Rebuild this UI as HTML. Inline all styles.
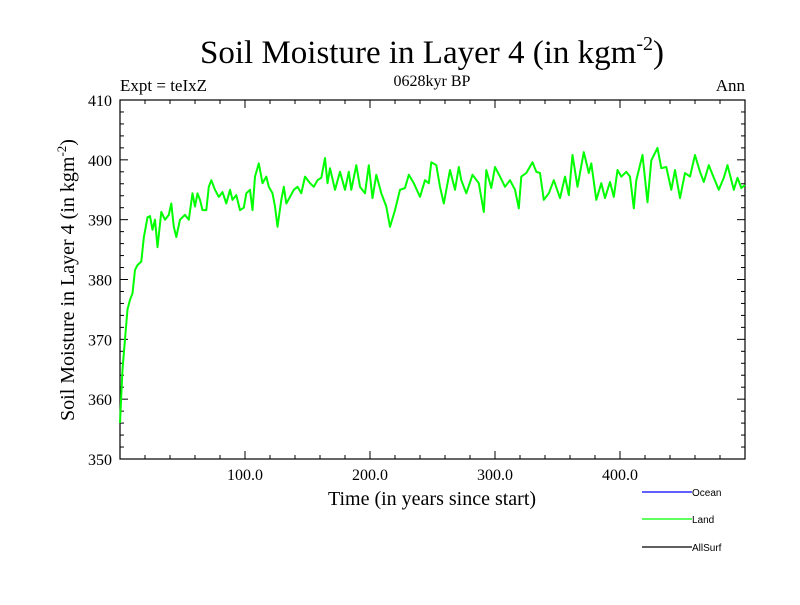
<!DOCTYPE html>
<html><head><meta charset="utf-8"><style>
body{margin:0;background:#fff;width:800px;height:600px;overflow:hidden}
text{font-family:"Liberation Serif",serif;fill:#000}
</style></head><body>
<svg id="chart" width="800" height="600">
<text x="432" y="63" font-size="33" text-anchor="middle">Soil Moisture in Layer 4 (in kgm<tspan dy="-13" font-size="20">-2</tspan><tspan dy="13">)</tspan></text>
<text x="120" y="91" font-size="17">Expt = teIxZ</text>
<text x="432" y="86" font-size="16" text-anchor="middle">0628kyr BP</text>
<text x="745" y="91" font-size="17" text-anchor="end">Ann</text>
<g id="axes"></g>
<g id="series"></g>
<text x="432" y="505" font-size="20" text-anchor="middle">Time (in years since start)</text>
<text transform="translate(74,280) rotate(-90)" font-size="20" text-anchor="middle">Soil Moisture in Layer 4 (in kgm<tspan dy="-8" font-size="13">-2</tspan><tspan dy="8">)</tspan></text>
<g>
<line x1="642" y1="492" x2="692" y2="492" stroke="#0000ff" stroke-width="1.3"/>
<text x="692" y="496" font-size="10" style="font-family:'Liberation Sans',sans-serif">Ocean</text>
<line x1="642" y1="519" x2="692" y2="519" stroke="#00ff00" stroke-width="1.3"/>
<text x="692" y="523" font-size="10" style="font-family:'Liberation Sans',sans-serif">Land</text>
<line x1="642" y1="547" x2="692" y2="547" stroke="#000" stroke-width="1.3"/>
<text x="692" y="551" font-size="10" style="font-family:'Liberation Sans',sans-serif">AllSurf</text>
</g>
</svg>
<script>
const years=[0,2,4,6,8,10,12,14,17,19,22,24,26,28,30,33,36,39,41,43,45,48,52,55,58,60,62,64,66,69,71,73,76,79,82,85,88,90,93,96,99,101,104,106,108,111,114,117,119,122,124,126,129,131,133,136,139,142,145,148,152,155,158,161,164,166,168,172,176,180,183,185,189,192,196,199,202,205,209,213,216,220,224,228,231,235,240,244,247,249,253,256,259,264,268,271,273,277,282,287,291,293,297,300,304,308,312,316,319,321,325,330,333,336,339,343,347,352,356,359,362,366,371,375,377,381,385,388,392,395,398,401,405,408,411,413,418,422,425,430,433,437,441,444,448,452,456,460,464,467,471,475,479,483,486,491,494,497,500];
const values=[356,365,370,375,376.6,377.7,381.6,382.4,383,387,390.4,390.6,388.3,390,385.4,391.3,390,390.8,392.7,388.8,387.1,390,390.8,390,394.4,392.2,394.4,393.3,391.6,391.6,395.5,396.6,395,393.8,394.6,392.7,395,393.3,394.1,391.6,392,394.4,395,391.6,397.2,399.4,396.1,397.2,395.5,394.4,392.2,388.8,393.3,395.5,392.7,393.8,395,395.5,394.4,397.2,396.1,395.5,396.6,397,400.3,396.1,398.6,395,398,395,398,395,399.1,395.5,394.4,399.1,393.6,397.5,394.4,392.2,388.8,391.6,395,395.3,397.5,396.1,393.8,396.6,396.1,399.6,399.1,395.5,392.7,398.3,395,398.8,396.6,394.4,397.5,396.1,391.3,398.3,395.3,398.8,397.2,395.5,396.6,395,391.9,397.2,397.8,399.6,398,397.8,393.3,394.4,396.6,393.6,397.2,394.1,400.8,395.5,401.3,397.8,399.4,393.3,396.1,393.6,396.3,393.8,398.3,397.2,398,397.2,391.9,396.6,400.8,392.9,399.9,402,398.6,398.8,395,398.3,393.6,397.8,397.2,400.8,398,396.3,399.1,397,395,397,399.1,395,397,395.3,395.8];
const yTicks=[350,360,370,380,390,400,410];
const xTicks=[100,200,300,400];
const xTickLabels=["100.0","200.0","300.0","400.0"];
const L=120,R=745,T=100,B=459;
const xs=v=>L+(v-0)/(500-0)*(R-L);
const ys=v=>B-(v-350)/(410-350)*(B-T);
const NS="http://www.w3.org/2000/svg";
const ax=document.getElementById('axes');
function mk(tag,attrs,parent){const e=document.createElementNS(NS,tag);for(const k in attrs)e.setAttribute(k,attrs[k]);parent.appendChild(e);return e;}
const frame=mk('rect',{x:L,y:T,width:R-L,height:B-T,fill:'none',stroke:'#000','stroke-width':1.2},ax);


for(let v=350;v<=410;v+=2){const major=(v%10===0);const len=major?8:4;
 const t1=mk('line',{x1:L,x2:L+len,y1:ys(v),y2:ys(v),stroke:'#000'},ax);
 
 
 const t2=mk('line',{x1:R,x2:R-len,y1:ys(v),y2:ys(v),stroke:'#000'},ax);
 
 }
yTicks.forEach(v=>{const t=mk('text',{x:112,y:ys(v)+6,'font-size':16,'text-anchor':'end'},ax);t.textContent=v;
 
 });
for(let v=20;v<500;v+=20){const major=(v%100===0);const len=major?8:4;
 const t1=mk('line',{x1:xs(v),x2:xs(v),y1:B,y2:B-len,stroke:'#000'},ax);
 
 
 const t2=mk('line',{x1:xs(v),x2:xs(v),y1:T,y2:T+len,stroke:'#000'},ax);
 
 }
xTicks.forEach((v,i)=>{const t=mk('text',{x:xs(v),y:480,'font-size':16,'text-anchor':'middle'},ax);t.textContent=xTickLabels[i];
 
 });
const pts=years.map((y,i)=>xs(y).toFixed(1)+','+ys(values[i]).toFixed(1)).join(' ');
const line=mk('polyline',{points:pts,fill:'none',stroke:'#00ff00','stroke-width':2,'stroke-linejoin':'round'},document.getElementById('series'));


</script>
</body></html>
